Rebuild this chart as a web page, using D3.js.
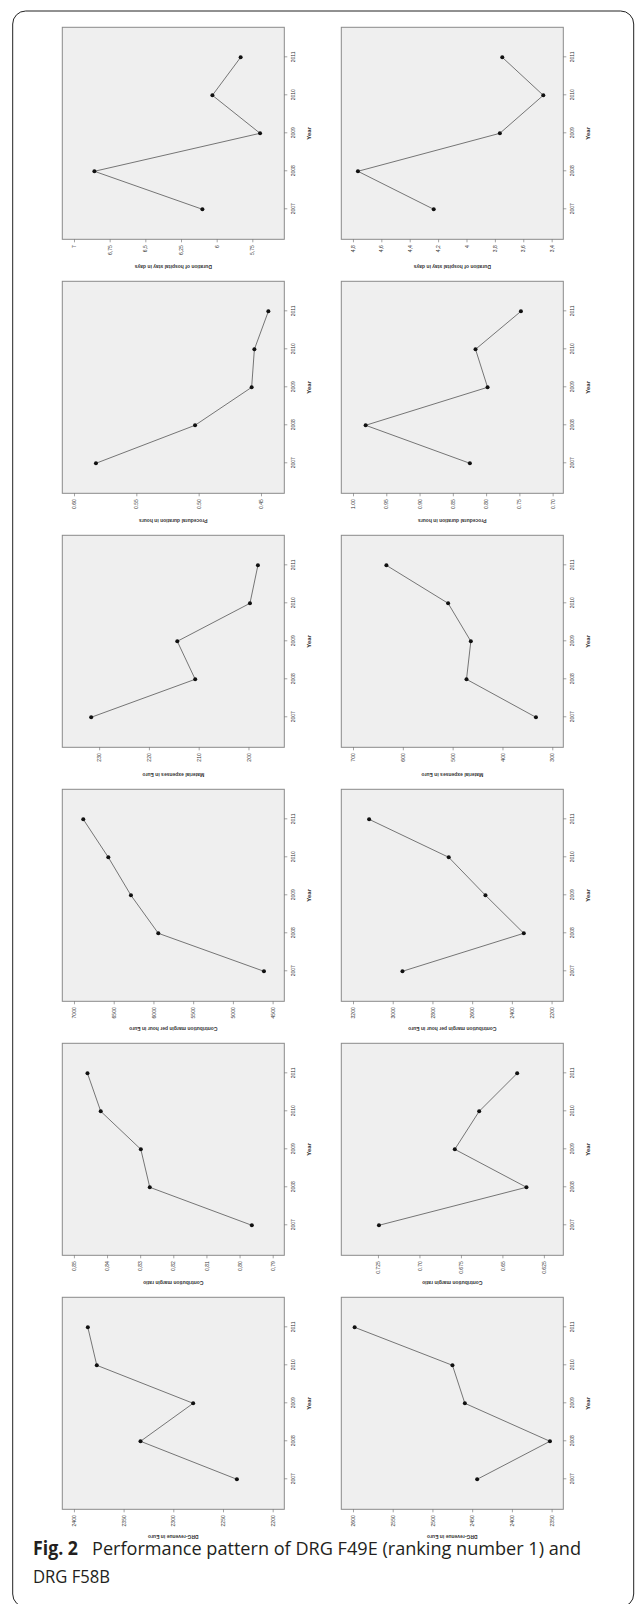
<!DOCTYPE html>
<html lang="en">
<head>
<meta charset="UTF-8">
<title>Fig. 2 Performance pattern of DRG F49E and DRG F58B</title>
<script src="https://d3js.org/d3.v7.min.js"></script>
<style>
  body { margin: 0; background: #fff; }
  svg { display: block; }
  .tick text, .axis-title, .year-title { font-family: "Liberation Sans", Arial, "DejaVu Sans", sans-serif; }
  .tick text { font-size: 5px; fill: #333; }
  .tick line { stroke: #666; stroke-width: 0.6; }
  .axis-title { font-size: 5px; font-weight: bold; fill: #333; }
  .year-title { font-size: 6px; font-weight: bold; fill: #333; }
  .caption { font-family: "Open Sans", sans-serif; font-size: 18px; fill: #231f20; }
</style>
</head>
<body>
<div id="chart"></div>
<script>
// data (years run bottom to top, values increase to the left)
const years = [2007, 2008, 2009, 2010, 2011];

const axisTitles = [
  "Duration of hospital stay in days",
  "Procedural duration in hours",
  "Material expenses in Euro",
  "Contribution margin per hour in Euro",
  "Contribution margin ratio",
  "DRG-revenue in Euro"
];

// left column
const leftValues = [
  [6.10, 6.857, 5.696, 6.030, 5.832],
  [0.5824, 0.5029, 0.4575, 0.4553, 0.4441],
  [231.6, 210.7, 214.3, 199.7, 198.1],
  [4609, 5939, 6283, 6568, 6883],
  [0.7963, 0.8271, 0.8298, 0.8419, 0.8459],
  [2236, 2333, 2280, 2377, 2386]
];
const leftTicks = [
  ["7", "6,75", "6,5", "6,25", "6", "5,75"],
  ["0.60", "0.55", "0.50", "0.45"],
  ["230", "220", "210", "200"],
  ["7000", "6500", "6000", "5500", "5000", "4500"],
  ["0,85", "0,84", "0,83", "0,82", "0,81", "0,80", "0,79"],
  ["2400", "2350", "2300", "2250", "2200"]
];
const leftRanges = [[5.526, 7.082], [0.4313, 0.6094], [192.8, 237.4], [4353, 7147], [0.7865, 0.8535], [2188.3, 2411.7]];

// right column
const rightValues = [
  [4.231, 4.765, 3.765, 3.459, 3.748],
  [0.8244, 0.981, 0.7978, 0.8159, 0.7477],
  [332.8, 472.2, 463.5, 509.1, 633.0],
  [2951, 2340, 2533, 2718, 3119],
  [0.7244, 0.6355, 0.6787, 0.664, 0.6411],
  [2443.7, 2352.1, 2459.2, 2474.8, 2597.9]
];
const rightTicks = [
  ["4,8", "4,6", "4,4", "4,2", "4", "3,8", "3,6", "3,4"],
  ["1.00", "0.95", "0.90", "0.85", "0.80", "0.75", "0.70"],
  ["700", "600", "500", "400", "300"],
  ["3200", "3000", "2800", "2600", "2400", "2200"],
  ["0.725", "0.70", "0.675", "0.65", "0.625"],
  ["2600", "2550", "2500", "2450", "2400", "2350"]
];
const rightRanges = [[3.318, 4.882], [0.684, 1.0176], [277.9, 723.5], [2141, 3259], [0.6133, 0.7471], [2335.3, 2614.7]];

const captionBold = "Fig. 2";
const captionLine1 = "Performance pattern of DRG F49E (ranking number 1) and";
const captionLine2 = "DRG F58B";

// layout
const width = 637, height = 1604;
const colX = [62.3, 341.3];
const panelTop = 27.3, rowStep = 254;
const PW = 222;   // panel width on screen (value axis)
const PH = 212;   // panel height on screen (year axis)
const yearDomain = [2006.21, 2011.79];

const svg = d3.select("#chart").append("svg")
  .attr("width", width)
  .attr("height", height);

// page frame
svg.append("rect")
  .attr("x", 12.7).attr("y", 11)
  .attr("width", 621).attr("height", 1596)
  .attr("rx", 13)
  .attr("fill", "none")
  .attr("stroke", "#222")
  .attr("stroke-width", 1);

const parse = s => +s.replace(",", ".");

function drawPanel(px, py, values, ticks, range, title) {
  // draw as a normal year/value plot, then turn it 90 degrees counter-clockwise
  const g = svg.append("g")
    .attr("transform", `translate(${px},${py + PH}) rotate(-90)`);

  const x = d3.scaleLinear().domain(yearDomain).range([0, PH]);
  const y = d3.scaleLinear().domain(range).range([PW, 0]);

  g.append("rect")
    .attr("width", PH)
    .attr("height", PW)
    .attr("fill", "#efefef")
    .attr("stroke", "#8a8a8a")
    .attr("stroke-width", 1);

  g.append("g")
    .call(d3.axisLeft(y)
      .tickValues(ticks.map(parse))
      .tickFormat((d, i) => ticks[i])
      .tickSize(3).tickPadding(3))
    .call(a => a.select(".domain").remove());

  g.append("g")
    .attr("transform", `translate(0,${PW})`)
    .call(d3.axisBottom(x)
      .tickValues(years)
      .tickFormat(d3.format("d"))
      .tickSize(3).tickPadding(4))
    .call(a => a.select(".domain").remove());

  g.append("text")
    .attr("class", "axis-title")
    .attr("transform", `translate(-27,${PW / 2}) rotate(-90)`)
    .attr("text-anchor", "middle")
    .attr("dominant-baseline", "middle")
    .text(title);

  g.append("text")
    .attr("class", "year-title")
    .attr("x", PH / 2)
    .attr("y", PW + 25)
    .attr("text-anchor", "middle")
    .attr("dominant-baseline", "middle")
    .text("Year");

  const line = d3.line()
    .x((d, i) => x(years[i]))
    .y(d => y(d));

  g.append("path")
    .datum(values)
    .attr("d", line)
    .attr("fill", "none")
    .attr("stroke", "#555")
    .attr("stroke-width", 0.8);

  g.selectAll(".pt")
    .data(values)
    .enter().append("circle")
    .attr("class", "pt")
    .attr("cx", (d, i) => x(years[i]))
    .attr("cy", d => y(d))
    .attr("r", 2)
    .attr("fill", "#111");
}

axisTitles.forEach((t, r) => {
  const py = panelTop + r * rowStep;
  drawPanel(colX[0], py, leftValues[r], leftTicks[r], leftRanges[r], t);
  drawPanel(colX[1], py, rightValues[r], rightTicks[r], rightRanges[r], t);
});

// caption
svg.append("text")
  .attr("class", "caption")
  .attr("x", 33).attr("y", 1555)
  .attr("font-weight", "bold")
  .attr("font-size", 19)
  .attr("textLength", 45)
  .attr("lengthAdjust", "spacingAndGlyphs")
  .style("font-size", "19px")
  .text(captionBold);

svg.append("text")
  .attr("class", "caption")
  .attr("x", 92).attr("y", 1555)
  .attr("textLength", 489)
  .attr("lengthAdjust", "spacingAndGlyphs")
  .text(captionLine1);

svg.append("text")
  .attr("class", "caption")
  .attr("x", 33).attr("y", 1583)
  .attr("textLength", 77)
  .attr("lengthAdjust", "spacingAndGlyphs")
  .text(captionLine2);
</script>
</body>
</html>
